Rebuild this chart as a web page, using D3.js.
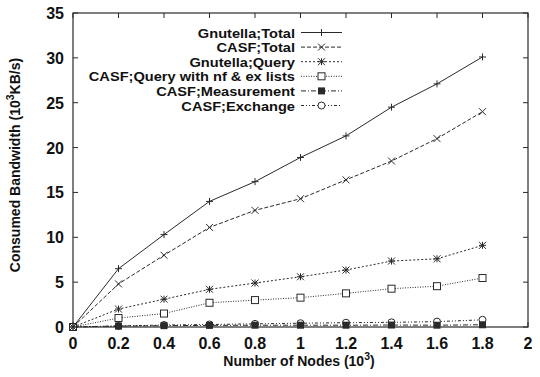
<!DOCTYPE html>
<html><head><meta charset="utf-8">
<script src="https://cdn.jsdelivr.net/npm/d3@7"></script>
<style>body{margin:0;background:#fff}svg{display:block}text{font-family:"Liberation Sans",Arial,sans-serif;fill:#111}</style>
</head><body><svg id="c" width="540" height="377"></svg>
<script>
const xs = [0, 0.2, 0.4, 0.6, 0.8, 1.0, 1.2, 1.4, 1.6, 1.8];
const gnutellaTotal = [0, 6.5, 10.3, 14.0, 16.2, 18.9, 21.3, 24.5, 27.1, 30.1];
const casfTotal = [0, 4.8, 8.0, 11.1, 13.0, 14.3, 16.4, 18.5, 21.0, 24.0];
const gnutellaQuery = [0, 2.0, 3.1, 4.2, 4.9, 5.6, 6.35, 7.35, 7.6, 9.1];
const casfQueryLists = [0, 1.0, 1.5, 2.7, 3.0, 3.27, 3.75, 4.27, 4.55, 5.46];
const casfMeasurement = [0, 0.1, 0.15, 0.18, 0.2, 0.2, 0.2, 0.22, 0.2, 0.25];
const casfExchange = [0, 0.12, 0.22, 0.28, 0.35, 0.42, 0.48, 0.52, 0.6, 0.8];
const seriesNames = ["Gnutella;Total","CASF;Total","Gnutella;Query","CASF;Query with nf & ex lists","CASF;Measurement","CASF;Exchange"];
const xTicks = [0,0.2,0.4,0.6,0.8,1,1.2,1.4,1.6,1.8,2];
const yTicks = [0,5,10,15,20,25,30,35];

const series = [
  {name: seriesNames[0], v: gnutellaTotal, dash: null, m: "plus"},
  {name: seriesNames[1], v: casfTotal, dash: "4,2", m: "x"},
  {name: seriesNames[2], v: gnutellaQuery, dash: "2,2", m: "star"},
  {name: seriesNames[3], v: casfQueryLists, dash: "1,1.5", m: "sq"},
  {name: seriesNames[4], v: casfMeasurement, dash: "5,2,1,2", m: "fsq"},
  {name: seriesNames[5], v: casfExchange, dash: "3,2,1,2,1,2", m: "circ"}
];

const svg = d3.select("#c");
const L=73, R=528, T=13, B=327;
const x = d3.scaleLinear().domain([0,2]).range([L,R]);
const y = d3.scaleLinear().domain([0,35]).range([B,T]);
const col = "#2a2a2a";

const g = svg.append("g");
xTicks.forEach(t=>{
  g.append("line").attr("x1",x(t)).attr("x2",x(t)).attr("y1",B).attr("y2",B-5).attr("stroke",col);
  g.append("line").attr("x1",x(t)).attr("x2",x(t)).attr("y1",T).attr("y2",T+5).attr("stroke",col);
  g.append("text").attr("x",x(t)).attr("y",B+21.5).attr("text-anchor","middle").attr("font-size",16).attr("font-weight","bold").text(t);
});
yTicks.forEach(t=>{
  g.append("line").attr("x1",L).attr("x2",L+5).attr("y1",y(t)).attr("y2",y(t)).attr("stroke",col);
  g.append("line").attr("x1",R).attr("x2",R-5).attr("y1",y(t)).attr("y2",y(t)).attr("stroke",col);
  g.append("text").attr("x",L-9).attr("y",y(t)+6).attr("text-anchor","end").attr("font-size",16).attr("font-weight","bold").text(t);
});
svg.append("rect").attr("x",L).attr("y",T).attr("width",R-L).attr("height",B-T).attr("fill","none").attr("stroke",col).attr("stroke-width",1.2);

const xl = svg.append("text").attr("x",299).attr("y",366).attr("text-anchor","middle").attr("font-size",14).attr("font-weight","bold");
xl.append("tspan").text("Number of Nodes (10");
xl.append("tspan").attr("dy",-6).attr("font-size",10.5).text("3");
xl.append("tspan").attr("dy",6).text(")");
const yl = svg.append("text").attr("transform","translate(20,165) rotate(-90)").attr("text-anchor","middle").attr("font-size",14).attr("font-weight","bold");
yl.append("tspan").text("Consumed Bandwidth (10");
yl.append("tspan").attr("dy",-6).attr("font-size",10.5).text("3");
yl.append("tspan").attr("dy",6).text("KB/s)");

function marker(sel, type, cx, cy){
  const s=3.5;
  if(type==="plus"){
    sel.append("path").attr("d",`M${cx-s},${cy}H${cx+s}M${cx},${cy-s}V${cy+s}`).attr("stroke",col).attr("stroke-width",1);
  } else if(type==="x"){
    sel.append("path").attr("d",`M${cx-s},${cy-s}L${cx+s},${cy+s}M${cx-s},${cy+s}L${cx+s},${cy-s}`).attr("stroke",col).attr("stroke-width",1);
  } else if(type==="star"){
    sel.append("path").attr("d",`M${cx-s},${cy}H${cx+s}M${cx},${cy-s}V${cy+s}M${cx-s},${cy-s}L${cx+s},${cy+s}M${cx-s},${cy+s}L${cx+s},${cy-s}`).attr("stroke",col).attr("stroke-width",1);
  } else if(type==="sq"){
    sel.append("rect").attr("x",cx-3.5).attr("y",cy-3.5).attr("width",7).attr("height",7).attr("fill","#fff").attr("stroke",col).attr("stroke-width",1);
  } else if(type==="fsq"){
    sel.append("rect").attr("x",cx-3.5).attr("y",cy-3.5).attr("width",7).attr("height",7).attr("fill",col);
  } else {
    sel.append("circle").attr("cx",cx).attr("cy",cy).attr("r",3.5).attr("fill","#fff").attr("stroke",col).attr("stroke-width",1);
  }
}

const line = d3.line().x((d,i)=>x(xs[i])).y(d=>y(d));
series.slice().reverse().forEach(s=>{
  const gs = svg.append("g");
  gs.append("path").attr("d",line(s.v)).attr("fill","none").attr("stroke",col).attr("stroke-width",1).attr("stroke-dasharray",s.dash);
  s.v.forEach((v,i)=>marker(gs,s.m,x(xs[i]),y(v)));
});

series.forEach((s,i)=>{
  const ly = 32.5 + i*14.6;
  const t = svg.append("text").attr("x",295).attr("y",ly+5).attr("text-anchor","end").attr("font-size",12.6).attr("font-weight","bold").text(s.name);
  const w = t.node().getComputedTextLength();
  t.attr("textLength", w*1.16).attr("lengthAdjust","spacingAndGlyphs");
  svg.append("line").attr("x1",301).attr("x2",342).attr("y1",ly).attr("y2",ly).attr("stroke",col).attr("stroke-width",1).attr("stroke-dasharray",s.dash);
  marker(svg,s.m,321.5,ly);
});
</script></body></html>
